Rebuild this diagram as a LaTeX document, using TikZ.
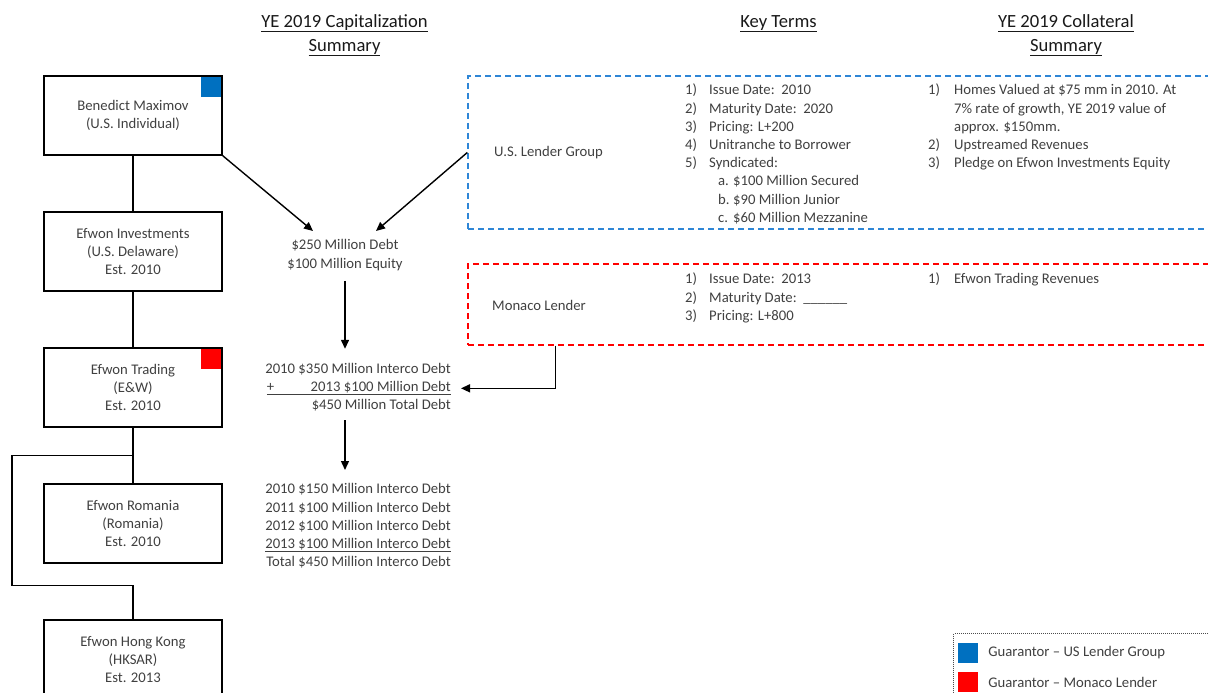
\documentclass[tikz,border=0pt]{standalone}
\usepackage{fontspec}
\setmainfont{Carlito}
\usepackage{amsmath}
\usetikzlibrary{positioning, calc, arrows.meta}
\definecolor{txtgray}{HTML}{404040}
\definecolor{usblue}{HTML}{0070C0}
\definecolor{mcred}{HTML}{FF0000}
\definecolor{dashblue}{HTML}{2E86D6}
\newcommand{\ulin}[1]{\underline{\smash[b]{#1}\rule[-1.2pt]{0pt}{1.2pt}}}

\tikzset{
    entity/.style={draw=black, line width=1.4pt, minimum width=178pt, minimum height=79pt,
        align=center, text=txtgray, font=\fontsize{14.7}{18.2}\selectfont, inner sep=0pt},
    body/.style={text=txtgray, font=\fontsize{14.7}{18.2}\selectfont, inner sep=0pt},
    heading/.style={text=black!90, font=\fontsize{18.6}{24}\selectfont, inner sep=0pt, anchor=north},
    link/.style={line width=1.4pt},
    arr/.style={line width=1.4pt, -{Triangle[length=9pt,width=8pt]}},
    usframe/.style={draw=dashblue, dash pattern=on 6pt off 4pt, line width=1.4pt,
        minimum width=770pt, minimum height=153pt, inner sep=0pt},
    mcframe/.style={draw=mcred, dash pattern=on 6pt off 4pt, line width=1.4pt,
        minimum width=770pt, minimum height=81pt, inner sep=0pt},
    guar/.style={minimum size=20pt, inner sep=0pt}
}

\begin{document}
\begin{tikzpicture}[x=1pt,y=-1pt]
    \useasboundingbox (0,0) rectangle (1208,693);
    %titoli
    \node[heading] (hcap) at (344.5,10.7) {\begin{tabular}{@{}c@{}}\ulin{YE 2019 Capitalization}\\\ulin{Summary}\end{tabular}};
    \node[heading] (hkey) at (778.5,10.7) {\begin{tabular}{@{}c@{}}\ulin{Key Terms}\end{tabular}};
    \node[heading] (hcol) at (1066,10.7) {\begin{tabular}{@{}c@{}}\ulin{YE 2019 Collateral}\\\ulin{Summary}\end{tabular}};

    %entita
    \node[entity] (ben) at (133,115.5) {Benedict Maximov\\(U.S. Individual)};
    \node[entity, below=55.6pt of ben] (inv) {Efwon Investments\\(U.S. Delaware)\\Est. 2010};
    \node[entity, below=55.6pt of inv] (trade) {Efwon Trading\\(E\&W)\\Est. 2010};
    \node[entity, below=55.6pt of trade] (roman) {Efwon Romania\\(Romania)\\Est. 2010};
    \node[entity, below=55.6pt of roman] (hk) {Efwon Hong Kong\\(HKSAR)\\Est. 2013};
    %garanti
    \node[guar, fill=usblue, anchor=north east] (benus) at ([xshift=-1.4pt,yshift=-1.4pt]ben.north east) {};
    \node[guar, fill=mcred, anchor=north east] (trademc) at ([xshift=-1.4pt,yshift=-1.4pt]trade.north east) {};

    %collegamenti
    \draw[link] (ben) -- (inv);
    \draw[link] (inv) -- (trade);
    \draw[link] (trade) -- (roman);
    \coordinate (fork) at ($(trade.south)!0.5!(roman.north)$);
    \draw[link] (fork) -| ++(-121,130) -| (hk.north);

    %finanziatori
    \node[usframe] (usbox) at (853,152.5) {};
    \node[mcframe] (mcbox) at (853,304.5) {};
    \node[body, anchor=west] (usgrp) at (494,153) {U.S. Lender Group};
    \node[body, anchor=west] (mcgrp) at (492,305) {Monaco Lender};

    %termini
    \node[body, anchor=north west] (uskey) at (685,82) {\begin{tabular}{@{}p{24pt}@{}l@{}}
        1) & Issue Date:\ \ 2010\\
        2) & Maturity Date:\ \ 2020\\
        3) & Pricing: L+200\\
        4) & Unitranche to Borrower\\
        5) & Syndicated:\\
           & \hspace{9pt}\makebox[15pt][l]{a.}\$100 Million Secured\\
           & \hspace{9pt}\makebox[15pt][l]{b.}\$90 Million Junior\\
           & \hspace{9pt}\makebox[15pt][l]{c.}\$60 Million Mezzanine
    \end{tabular}};
    \node[body, anchor=north west] (uscol) at (928,82) {\begin{tabular}{@{}p{26pt}@{}l@{}}
        1) & Homes Valued at \$75 mm in 2010. At\\
           & 7\% rate of growth, YE 2019 value of\\
           & approx. \$150mm.\\
        2) & Upstreamed Revenues\\
        3) & Pledge on Efwon Investments Equity
    \end{tabular}};
    \node[body, anchor=north west] (mckey) at (685,271) {\begin{tabular}{@{}p{24pt}@{}l@{}}
        1) & Issue Date:\ \ 2013\\
        2) & Maturity Date:\ \ \_\_\_\_\_\_\\
        3) & Pricing: L+800
    \end{tabular}};
    \node[body, anchor=north west] (mccol) at (928,271) {\begin{tabular}{@{}p{26pt}@{}l@{}}
        1) & Efwon Trading Revenues
    \end{tabular}};

    %capitalizzazione
    \node[body, anchor=north] (debt) at (345,237) {\begin{tabular}{@{}c@{}}\$250 Million Debt\\\$100 Million Equity\end{tabular}};
    \node[body, anchor=base east] (tot1) at (451,373.2) {2010 \$350 Million Interco Debt};
    \node[body, anchor=base east] (tot2) at (451,391.4) {\ulin{\makebox[184pt]{+\hfill 2013 \$100 Million Debt}}};
    \node[body, anchor=base east] (tot3) at (451,409.6) {\$450 Million Total Debt};
    \node[body, anchor=north east] (interco) at (451,481) {\begin{tabular}{@{}r@{}}
        2010 \$150 Million Interco Debt\\
        2011 \$100 Million Interco Debt\\
        2012 \$100 Million Interco Debt\\
        \ulin{2013 \$100 Million Interco Debt}\\
        Total \$450 Million Interco Debt
    \end{tabular}};

    %frecce
    \draw[arr] (ben.south east) -- ($(debt.north)+(-32,-6)$);
    \draw[arr] (usbox.west) -- ($(debt.north)+(31,-6)$);
    \draw[arr, shorten <=7pt, shorten >=14pt] (debt.south) -- (debt.south |- tot1.north);
    \draw[arr, shorten <=9pt, shorten >=11pt] (debt.south |- tot3.south) -- (debt.south |- interco.north);
    \draw[arr] ([xshift=88pt]mcbox.south west) |- ([xshift=10pt]tot2.east);

    %legenda
    \node[draw=black!70, dash pattern=on 1pt off 1pt, line width=1pt, minimum width=300pt, minimum height=100pt, anchor=north west] (lgbox) at (953,633) {};
    \node[guar, fill=usblue] (lgus) at (968,653) {};
    \node[guar, fill=mcred] (lgmc) at (968,682) {};
    \node[body, right=10pt of lgus] (lgustxt) {Guarantor -- US Lender Group};
    \node[body, right=10pt of lgmc] (lgmctxt) {Guarantor -- Monaco Lender};
\end{tikzpicture}
\end{document}
